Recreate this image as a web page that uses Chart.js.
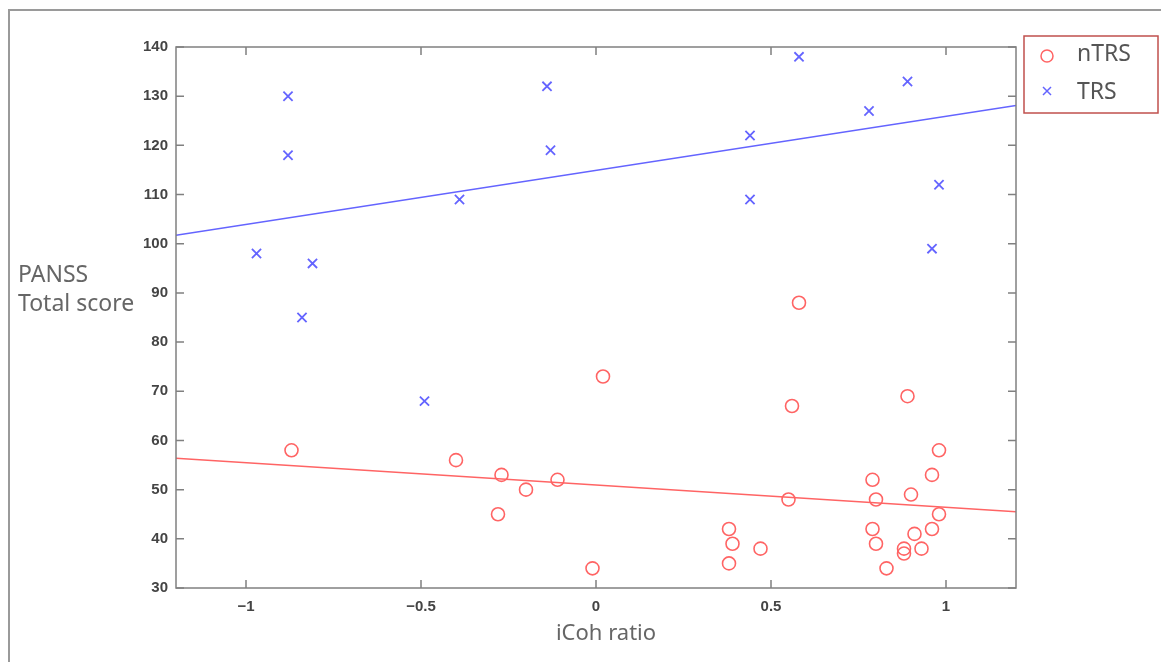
<!DOCTYPE html>
<html>
<head>
<meta charset="utf-8">
<script src="https://cdn.jsdelivr.net/npm/chart.js@4/dist/chart.umd.min.js"></script>
<style>
  html, body { margin: 0; padding: 0; background: #fff; }
  #wrap { width: 1161px; height: 662px; }
</style>
</head>
<body>
<div id="wrap"><canvas id="c" width="1161" height="662"></canvas></div>
<script>
// nTRS group (circles)
const ntrsX = [-0.87, -0.40, -0.27, -0.20, -0.28, -0.11, 0.02, -0.01, 0.38, 0.39, 0.38, 0.47,
  0.56, 0.58, 0.89, 0.98, 0.96, 0.79, 0.55, 0.80, 0.90, 0.98, 0.96, 0.79, 0.91, 0.80, 0.88, 0.88, 0.93, 0.83];
const ntrsY = [58, 56, 53, 50, 45, 52, 73, 34, 42, 39, 35, 38,
  67, 88, 69, 58, 53, 52, 48, 48, 49, 45, 42, 42, 41, 39, 38, 37, 38, 34];

// TRS group (crosses)
const trsX = [-0.88, -0.88, -0.97, -0.81, -0.84, -0.49, -0.39, -0.14, -0.13, 0.44, 0.44, 0.58, 0.78, 0.89, 0.96, 0.98];
const trsY = [130, 118, 98, 96, 85, 68, 109, 132, 119, 122, 109, 138, 127, 133, 99, 112];

// fitted lines, read at the plot edges
const fitX = [-1.2, 1.2];
const ntrsFitY = [56.4, 45.5];
const trsFitY = [101.7, 128.1];

const xTicks = [-1, -0.5, 0, 0.5, 1];
const yTicks = [30, 40, 50, 60, 70, 80, 90, 100, 110, 120, 130, 140];

const red = 'rgb(255,100,100)';
const blue = 'rgb(100,100,255)';

function pts(xs, ys) {
  return xs.map((x, i) => ({ x: x, y: ys[i] }));
}

const decor = {
  id: 'decor',
  afterDraw(chart) {
    const ctx = chart.ctx;
    const a = chart.chartArea;
    const xs = chart.scales.x, ys = chart.scales.y;
    ctx.save();
    // outer frame
    ctx.strokeStyle = '#9a9a9a';
    ctx.lineWidth = 2;
    ctx.beginPath();
    ctx.moveTo(9, 662);
    ctx.lineTo(9, 10);
    ctx.lineTo(1161, 10);
    ctx.stroke();

    // axes box
    ctx.strokeStyle = '#808080';
    ctx.lineWidth = 1.5;
    ctx.strokeRect(a.left, a.top, a.right - a.left, a.bottom - a.top);

    // inward ticks on all four sides
    ctx.beginPath();
    xTicks.forEach(v => {
      const p = xs.getPixelForValue(v);
      ctx.moveTo(p, a.bottom); ctx.lineTo(p, a.bottom - 8);
      ctx.moveTo(p, a.top); ctx.lineTo(p, a.top + 8);
    });
    yTicks.forEach(v => {
      const p = ys.getPixelForValue(v);
      ctx.moveTo(a.left, p); ctx.lineTo(a.left + 8, p);
      ctx.moveTo(a.right, p); ctx.lineTo(a.right - 8, p);
    });
    ctx.stroke();

    // axis titles
    ctx.fillStyle = '#666';
    ctx.font = '23px "Noto Sans"';
    ctx.textBaseline = 'middle';
    ctx.textAlign = 'left';
    ctx.fillText('PANSS', 18, 275);
    ctx.fillText('Total score', 18, 304);
    ctx.textAlign = 'center';
    ctx.font = '22px "Noto Sans"';
    ctx.fillText('iCoh ratio', (a.left + a.right) / 2 + 10, 634);

    // legend
    ctx.strokeStyle = '#c0504d';
    ctx.lineWidth = 1.5;
    ctx.strokeRect(1024, 36, 134, 77);
    ctx.lineWidth = 1.5;
    ctx.strokeStyle = red;
    ctx.beginPath();
    ctx.arc(1047, 56, 6, 0, Math.PI * 2);
    ctx.stroke();
    ctx.strokeStyle = blue;
    ctx.beginPath();
    ctx.moveTo(1043, 87); ctx.lineTo(1051, 95);
    ctx.moveTo(1051, 87); ctx.lineTo(1043, 95);
    ctx.stroke();
    ctx.fillStyle = '#555';
    ctx.font = '23px "Noto Sans"';
    ctx.textAlign = 'left';
    ctx.fillText('nTRS', 1077, 54);
    ctx.fillText('TRS', 1077, 92);
    ctx.restore();
  }
};

new Chart(document.getElementById('c'), {
  type: 'scatter',
  data: {
    datasets: [
      {
        label: 'nTRS',
        data: pts(ntrsX, ntrsY),
        pointStyle: 'circle',
        pointRadius: 6.5,
        borderColor: red,
        backgroundColor: 'rgba(0,0,0,0)',
        borderWidth: 1.6
      },
      {
        label: 'TRS',
        data: pts(trsX, trsY),
        pointStyle: 'crossRot',
        pointRadius: 6.5,
        borderColor: blue,
        backgroundColor: blue,
        borderWidth: 1.8
      },
      {
        label: 'nTRS fit',
        type: 'line',
        data: pts(fitX, ntrsFitY),
        showLine: true,
        pointRadius: 0,
        borderColor: red,
        borderWidth: 1.5,
        fill: false
      },
      {
        label: 'TRS fit',
        type: 'line',
        data: pts(fitX, trsFitY),
        showLine: true,
        pointRadius: 0,
        borderColor: blue,
        borderWidth: 1.5,
        fill: false
      }
    ]
  },
  options: {
    responsive: false,
    animation: false,
    layout: { padding: { left: 0, top: 47, right: 145, bottom: 0 } },
    plugins: {
      legend: { display: false },
      tooltip: { enabled: false }
    },
    scales: {
      x: {
        type: 'linear',
        min: -1.2,
        max: 1.2,
        grid: { display: false },
        border: { display: false },
        afterBuildTicks: s => { s.ticks = xTicks.map(v => ({ value: v })); },
        afterFit: s => { s.height = 74; },
        ticks: {
          padding: 2,
          color: '#444',
          font: { family: '"Liberation Sans"', size: 15, weight: 'bold' },
          callback: v => String(v).replace('-', '\u2212')
        }
      },
      y: {
        min: 30,
        max: 140,
        grid: { display: false },
        border: { display: false },
        afterBuildTicks: s => { s.ticks = yTicks.map(v => ({ value: v })); },
        afterFit: s => { s.width = 176; },
        ticks: {
          padding: 0,
          color: '#444',
          font: { family: '"Liberation Sans"', size: 15, weight: 'bold' }
        }
      }
    }
  },
  plugins: [decor]
});
</script>
</body>
</html>
